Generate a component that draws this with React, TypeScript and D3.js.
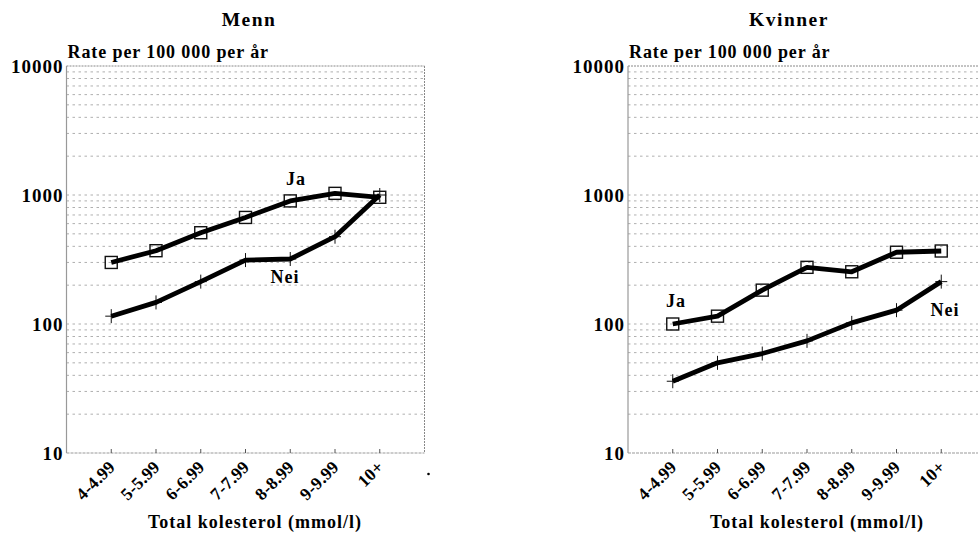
import React from "react";
import * as d3 from "d3";

const categories = ["4-4.99", "5-5.99", "6-6.99", "7-7.99", "8-8.99", "9-9.99", "10+"];
const menJa = [300, 370, 510, 670, 900, 1030, 960];
const menNei = [115, 147, 213, 313, 319, 475, 1000];
const womenJa = [100, 115, 183, 275, 254, 360, 368];
const womenNei = [36, 50, 59, 74, 102, 128, 213];
const yTicks = [10, 100, 1000, 10000];
const titles = ["Menn", "Kvinner"];
const yAxisLabel = "Rate per 100 000 per år";
const xAxisLabel = "Total kolesterol (mmol/l)";

const FONT = "'Liberation Serif', 'Times New Roman', serif";
const TOP = 66;
const BOTTOM = 453;

type PanelProps = {
  x0: number;
  title: string;
  ja: number[];
  nei: number[];
  jaLabel: [number, number];
  neiLabel: [number, number];
  titleX: number;
  xTitleX: number;
};

function Panel({ x0, title, ja, nei, jaLabel, neiLabel, titleX, xTitleX }: PanelProps) {
  const x1 = x0 + 358;
  const x = d3.scalePoint<string>().domain(categories).range([x0, x1]).padding(1);
  const y = d3.scaleLog().domain([10, 10000]).range([BOTTOM, TOP]);
  const gridVals: number[] = [];
  [10, 100, 1000].forEach((d) => {
    for (let k = 2; k <= 10; k++) {
      const v = d * k;
      if (v < 10000) gridVals.push(v);
    }
  });
  const line = d3
    .line<number>()
    .x((_, i) => x(categories[i]) as number)
    .y((d) => y(d));
  return (
    <g>
      <text x={titleX} y={26} textAnchor="middle" fontFamily={FONT} fontWeight="bold" fontSize={19.5} letterSpacing={1.5}>
        {title}
      </text>
      <text x={x0 + 1} y={58} fontFamily={FONT} fontWeight="bold" fontSize={18} letterSpacing={0.9}>
        {yAxisLabel}
      </text>
      {gridVals.map((v) => (
        <line key={v} x1={x0} x2={x1} y1={y(v)} y2={y(v)} stroke="#9a9a9a" strokeWidth={0.8} strokeDasharray="2.5,3.5" />
      ))}
      {/* frame */}
      <line x1={x0} x2={x1} y1={TOP} y2={TOP} stroke="#888" strokeWidth={1} strokeDasharray="2,1" />
      <line x1={x1} x2={x1} y1={TOP} y2={BOTTOM} stroke="#888" strokeWidth={1} strokeDasharray="2,1" />
      <line x1={x0} x2={x1} y1={BOTTOM} y2={BOTTOM} stroke="#999" strokeWidth={1} strokeDasharray="3,1" />
      <line x1={x0} x2={x0} y1={TOP} y2={BOTTOM} stroke="#999" strokeWidth={1.2} />
      {categories.map((c) => (
        <line key={c} x1={x(c)} x2={x(c)} y1={BOTTOM} y2={BOTTOM - 4} stroke="#555" strokeWidth={1} />
      ))}
      {yTicks.map((t) => (
        <text key={t} x={x0 - 3} y={y(t)} dy="0.35em" textAnchor="end" fontFamily={FONT} fontWeight="bold" fontSize={19} letterSpacing={1}>
          {t}
        </text>
      ))}
      {categories.map((c) => (
        <text
          key={c}
          transform={`translate(${(x(c) as number) + 5},${BOTTOM + 15}) rotate(-45)`}
          textAnchor="end"
          fontFamily={FONT}
          fontWeight="bold"
          fontSize={17.5}
          letterSpacing={0.3}
        >
          {c}
        </text>
      ))}
      <text x={xTitleX} y={528} textAnchor="middle" fontFamily={FONT} fontWeight="bold" fontSize={18} letterSpacing={1}>
        {xAxisLabel}
      </text>
      {/* series */}
      {ja.map((v, i) => (
        <rect
          key={"s" + i}
          x={(x(categories[i]) as number) - 6}
          y={y(v) - 6}
          width={12}
          height={12}
          fill="none"
          stroke="#111"
          strokeWidth={1.4}
        />
      ))}
      {nei.map((v, i) => (
        <g key={"p" + i}>
          <line x1={(x(categories[i]) as number)} x2={(x(categories[i]) as number)} y1={y(v) - 7} y2={y(v) + 7} stroke="#111" strokeWidth={1} />
          <line x1={(x(categories[i]) as number) - 6} x2={(x(categories[i]) as number) + 6} y1={y(v)} y2={y(v)} stroke="#111" strokeWidth={1} />
        </g>
      ))}
      <path d={line(ja) || ""} fill="none" stroke="#000" strokeWidth={4.8} strokeLinejoin="round" />
      <path d={line(nei) || ""} fill="none" stroke="#000" strokeWidth={4.8} strokeLinejoin="round" />
      <text x={jaLabel[0]} y={jaLabel[1]} textAnchor="middle" fontFamily={FONT} fontWeight="bold" fontSize={18} letterSpacing={1}>
        Ja
      </text>
      <text x={neiLabel[0]} y={neiLabel[1]} textAnchor="middle" fontFamily={FONT} fontWeight="bold" fontSize={18} letterSpacing={1}>
        Nei
      </text>
    </g>
  );
}

export default function App() {
  return (
    <svg
      width={978}
      height={538}
      style={{ position: "absolute", left: 0, top: 0, background: "#fff" }}
      viewBox="0 0 978 538"
    >
      <rect x={0} y={0} width={978} height={538} fill="#fff" />
      <Panel x0={66.5} title={titles[0]} ja={menJa} nei={menNei} jaLabel={[296, 185]} neiLabel={[285, 283]} titleX={249} xTitleX={255} />
      <Panel x0={628} title={titles[1]} ja={womenJa} nei={womenNei} jaLabel={[676, 307]} neiLabel={[945, 316]} titleX={789} xTitleX={817} />
      <circle cx={428.5} cy={474} r={1.3} fill="#000" />
    </svg>
  );
}
